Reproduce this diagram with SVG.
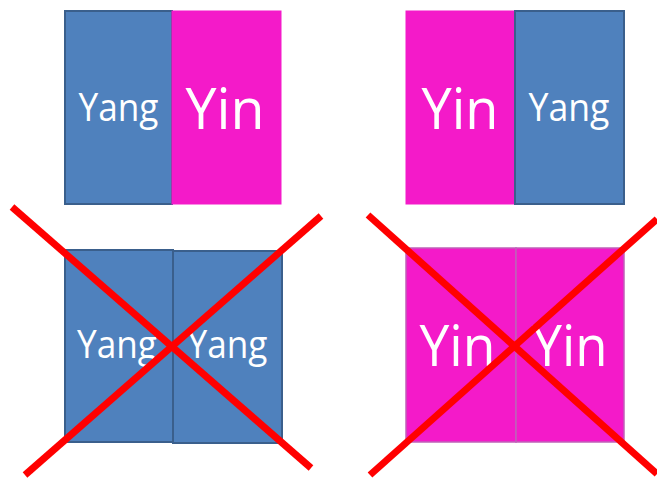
<svg xmlns="http://www.w3.org/2000/svg" width="657" height="479" viewBox="0 0 657 479">
<style>
.yang{fill:#4F81BD;stroke:#3A5F8C;stroke-width:2}
.yin{fill:#F41AC9;stroke:#F41AC9;stroke-width:1}
.yin2{fill:#F41AC9;stroke:#C060B8;stroke-width:1.5}
.t{font-family:"Open Sans","Noto Sans","Liberation Sans",sans-serif;fill:#FFFFFF;text-anchor:middle}
.ts{font-size:38px}
.tl{font-size:57px}
.x{stroke:#FF0000;stroke-width:7;fill:none}
</style>
<rect width="657" height="479" fill="#FFFFFF"/>
<g id="top-left">
  <g id="tl-yang"><rect class="yang" x="65" y="11" width="107" height="193"/><text class="t ts" x="118.5" y="121" textLength="80" lengthAdjust="spacingAndGlyphs">Yang</text></g>
  <g id="tl-yin"><rect class="yin" x="172" y="11" width="109" height="193"/><text class="t tl" x="225" y="129" textLength="79" lengthAdjust="spacingAndGlyphs">Yin</text></g>
</g>
<g id="top-right">
  <g id="tr-yin"><rect class="yin" x="406" y="11" width="109" height="193"/><text class="t tl" x="460" y="129" textLength="77" lengthAdjust="spacingAndGlyphs">Yin</text></g>
  <g id="tr-yang"><rect class="yang" x="515" y="11" width="109" height="193"/><text class="t ts" x="569" y="121" textLength="81" lengthAdjust="spacingAndGlyphs">Yang</text></g>
</g>
<g id="bottom-left">
  <g id="bl-yang1"><rect class="yang" x="65" y="250" width="108" height="192"/><text class="t ts" x="117" y="358" textLength="80" lengthAdjust="spacingAndGlyphs">Yang</text></g>
  <g id="bl-yang2"><rect class="yang" x="173" y="251" width="109" height="192"/><text class="t ts" x="227.5" y="358" textLength="80" lengthAdjust="spacingAndGlyphs">Yang</text></g>
</g>
<g id="bottom-right">
  <g id="br-yin1"><rect class="yin2" x="406" y="248" width="110" height="194"/><text class="t tl" x="457.5" y="366" textLength="76" lengthAdjust="spacingAndGlyphs">Yin</text></g>
  <g id="br-yin2"><rect class="yin2" x="516" y="248" width="108" height="194"/><text class="t tl" x="570" y="366" textLength="75" lengthAdjust="spacingAndGlyphs">Yin</text></g>
</g>
<g id="connectors">
  <line class="x" x1="12" y1="207" x2="311" y2="468"/>
  <line class="x" x1="321" y1="216" x2="25" y2="475"/>
  <line class="x" x1="368" y1="215" x2="657" y2="474"/>
  <line class="x" x1="657" y1="219" x2="370" y2="475"/>
</g>
</svg>
